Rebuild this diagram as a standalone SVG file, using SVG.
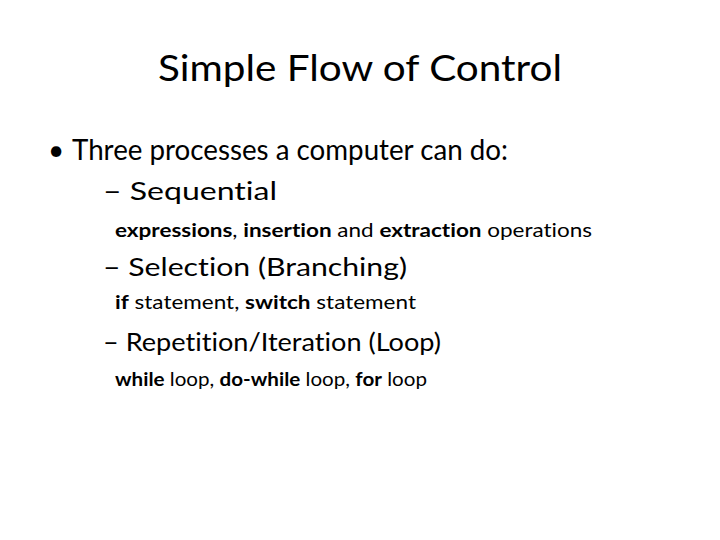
<svg xmlns="http://www.w3.org/2000/svg" width="720" height="540" viewBox="0 0 720 540">
<style>
text{font-family:"Lato","Open Sans","Liberation Sans",sans-serif;fill:#000;font-variant-ligatures:none;font-feature-settings:"liga" 0}
.t{font-size:37px}
.l1{font-size:28px}
.l2{font-size:25px}
.l3{font-size:19px}
.b{font-weight:bold}
</style>
<rect width="720" height="540" fill="#fff"/>
<g id="title"><text class="t" x="360" y="81" text-anchor="middle" textLength="404" lengthAdjust="spacingAndGlyphs">Simple Flow of Control</text></g>
<g id="bullet1">
<text class="l1" x="48" y="160">•</text>
<text class="l1" x="72" y="160" textLength="436" lengthAdjust="spacingAndGlyphs">Three processes a computer can do:</text>
</g>
<g id="seq">
<text class="l2" x="103" y="200" textLength="174" lengthAdjust="spacingAndGlyphs">– Sequential</text>
<text class="l3" x="115" y="237" textLength="477" lengthAdjust="spacingAndGlyphs"><tspan class="b">expressions</tspan>, <tspan class="b">insertion</tspan> and <tspan class="b">extraction</tspan> operations</text>
</g>
<g id="sel">
<text class="l2" x="103" y="276" textLength="304" lengthAdjust="spacingAndGlyphs">– Selection (Branching)</text>
<text class="l3" x="115" y="309" textLength="301" lengthAdjust="spacingAndGlyphs"><tspan class="b">if</tspan> statement, <tspan class="b">switch</tspan> statement</text>
</g>
<g id="rep">
<text class="l2" x="103" y="351" textLength="338" lengthAdjust="spacingAndGlyphs">– Repetition/Iteration (Loop)</text>
<text class="l3" x="115" y="386" textLength="312" lengthAdjust="spacingAndGlyphs"><tspan class="b">while</tspan> loop, <tspan class="b">do-while</tspan> loop, <tspan class="b">for</tspan> loop</text>
</g>
<g id="connectors"/>
</svg>
